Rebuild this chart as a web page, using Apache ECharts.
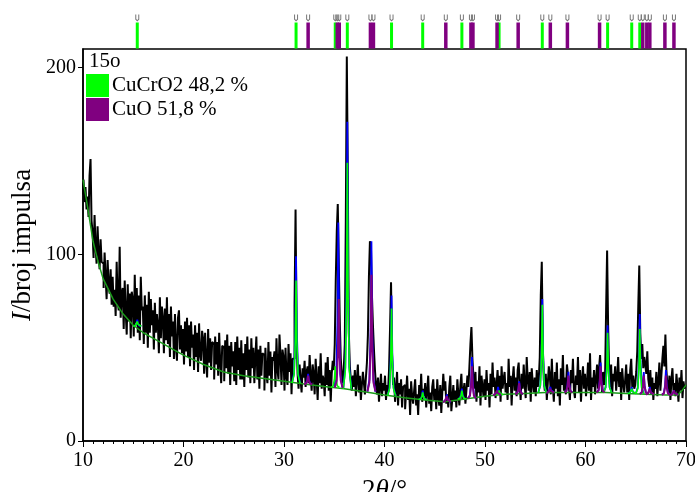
<!DOCTYPE html>
<html>
<head>
<meta charset="utf-8">
<script src="https://cdn.jsdelivr.net/npm/echarts@6/dist/echarts.min.js"></script>
<style>
html,body{margin:0;padding:0;background:#fff;}
#chart{width:695px;height:492px;}
</style>
</head>
<body>
<div id="chart"></div>
<script>
// ---------- DATA ----------
const sampleName = '15o';
const phaseNames = ['CuCrO2 48,2 %', 'CuO 51,8 %'];
const xTicks = [10, 20, 30, 40, 50, 60, 70];
const yTicks = [0, 100, 200];

// observed counts, 2theta from 10.0 to 70.0 in steps of 0.1
const obsStart = 10;
const obsStep = 0.1;
const obsCounts = [
132,140,128,136,124,131,120,142,151,118,
112,98,121,104,95,115,101,92,108,96,
95,82,101,88,76,97,84,79,92,73,
88,72,81,67,96,75,70,104,66,79,
82,60,86,69,57,84,64,79,55,80,
76,56,89,63,82,58,78,54,88,70,
72,52,78,58,73,50,80,58,76,62,
70,49,74,58,68,62,47,77,55,72,
66,47,71,54,77,52,68,45,72,56,
64,44,68,50,43,66,70,49,62,47,
60,41,64,48,66,45,62,40,64,50,
57,38,62,45,58,37,63,46,43,59,
55,36,58,43,34,60,42,55,38,53,
52,33,56,41,53,35,58,42,31,51,
50,32,54,39,57,36,51,30,53,40,
48,32,53,30,56,38,50,33,54,33,
47,29,52,38,56,34,49,31,55,39,
50,31,45,56,33,49,28,51,35,47,
46,27,50,36,31,53,35,48,26,45,
43,48,29,55,38,33,57,46,30,49,
45,27,50,35,30,52,37,47,25,44,
44,72,124,58,36,28,41,33,26,39,
34,43,29,37,40,31,46,35,27,41,
36,25,44,33,22,40,31,47,28,35,
33,24,42,30,45,27,38,21,36,43,
38,52,86,112,127,96,64,44,36,31,
39,52,118,206,142,58,40,33,27,35,
29,38,24,33,41,26,35,22,30,37,
31,25,34,42,57,88,107,104,78,62,
49,38,30,25,34,21,29,36,24,31,
27,35,22,30,26,38,60,85,47,30,
34,21,28,37,19,31,25,33,18,29,
30,17,26,35,22,28,14,32,24,20,
27,33,19,25,14,30,23,36,21,28,
24,31,18,27,35,20,26,16,29,33,
22,28,17,33,24,19,30,15,26,36,
27,32,20,25,18,29,35,16,23,30,
21,27,18,33,25,19,30,36,22,26,
31,20,27,35,29,40,52,61,44,34,
28,37,21,32,26,40,19,35,29,24,
33,22,38,27,31,18,36,25,42,29,
34,23,30,38,27,35,21,40,28,33,
37,26,31,22,44,29,35,19,33,40,
27,34,24,38,42,30,22,36,28,41,
30,23,45,33,27,37,21,39,31,26,
34,24,38,29,33,45,78,96,51,33,
27,36,22,31,40,35,25,44,29,21,
37,28,42,24,33,19,39,30,46,27,
34,25,41,36,29,22,38,31,44,27,
23,35,30,45,26,38,21,33,40,28,
36,24,31,42,27,47,22,34,29,38,
25,33,41,28,39,46,34,26,37,30,
35,70,102,62,38,29,41,24,36,32,
40,27,34,45,29,37,22,39,31,26,
33,41,26,36,22,38,44,29,35,28,
30,37,48,72,94,58,44,52,39,45,
41,36,48,33,29,38,25,34,22,31,
28,37,24,32,42,27,35,44,51,40,
57,38,30,26,35,22,33,39,27,31,
24,36,29,21,34,27,38,23,32,28,
30
];

// background curve
const bgX = [10,10.5,11,11.5,12,13,14,15,16,17,18,19,20,22,24,26,28,30,32,34,36,38,40,42,44,46,48,50,52,54,56,58,60,62,64,66,68,69.2,69.6,70];
const bgY = [140,124,107,96,87,76,68,62,58,55,52,49,46,41,37,35,33.5,32,30.5,29.2,28,26.4,24.7,23.2,22,21,22.5,24,25,25.5,26,26,26,26,25.5,25,24.7,24.7,27,30];

// reflection positions (tick marks above the plot)
const cuCrO2Ticks = [15.4, 31.2, 35.1, 36.3, 40.7, 43.8, 47.7, 51.4, 55.7, 62.2, 64.6, 65.4];
const cuOTicks = [32.4, 35.3, 35.5, 38.6, 38.9, 46.1, 48.6, 48.8, 51.2, 53.3, 56.5, 58.2, 61.4, 65.7, 66.1, 66.4, 67.9, 68.8];

// phase contributions (position, base level, peak top)
const cuCrO2PeakPos  = [15.4, 31.2, 35.1, 36.3, 40.7, 43.8, 47.7, 51.4, 55.7, 62.2, 64.6, 65.4];
const cuCrO2PeakBase = [61.5, 31, 28.7, 28, 24.3, 22.2, 22.5, 24.8, 25.9, 26, 25.5, 25.3];
const cuCrO2PeakTop  = [64, 86, 40, 149, 71, 26, 27, 27, 73, 58, 28, 60];

const cuOPeakPos  = [32.4, 35.45, 38.7, 46.2, 48.7, 51.2, 53.4, 56.5, 58.3, 61.5, 65.8, 66.4, 68.0, 68.8];
const cuOPeakBase = [30.4, 28.5, 26.5, 21, 22.8, 24.7, 25.2, 25.9, 26, 26, 25.2, 25, 24.7, 24.7];
const cuOPeakTop  = [35, 76, 89, 24, 40, 27, 31, 28, 35, 40, 35, 28, 35, 27];

// calculated total profile peaks
const calcPeakPos  = [15.4, 31.2, 32.4, 35.4, 36.3, 38.7, 40.7, 43.8, 46.2, 47.7, 48.7, 51.3, 53.4, 55.7, 56.5, 58.3, 61.5, 62.2, 64.6, 65.4, 65.8, 66.4, 68.0, 68.8];
const calcPeakBase = [61.5, 31, 30.4, 28.6, 28, 26.5, 24.3, 22.2, 21, 22.5, 22.8, 24.8, 25.2, 25.9, 25.9, 26, 26, 26, 25.5, 25.3, 25.2, 25, 24.7, 24.7];
const calcPeakTop  = [65, 99, 36, 117, 171, 107, 78, 27, 25, 28, 45, 29, 32, 76, 29, 37, 42, 62, 29, 68, 37, 29, 38, 27];

// ---------- BUILD ----------
const FONT = 'Liberation Serif';
const shapeOff = [-0.4, -0.2, -0.08, 0, 0.08, 0.2, 0.4];
const shapeFrac = [0, 0.08, 0.4, 1, 0.4, 0.08, 0];
function peakLines(pos, base, top) {
  const out = [];
  pos.forEach((p, i) => {
    shapeOff.forEach((o, k) => out.push([p + o, base[i] + (top[i] - base[i]) * shapeFrac[k]]));
    out.push([p + 0.41, '-']);
  });
  return out;
}
const obsData = obsCounts.map((v, i) => [+(obsStart + i * obsStep).toFixed(2), v]);
const bgData = bgX.map((x, i) => [x, bgY[i]]);

const chart = echarts.init(document.getElementById('chart'), null, {renderer: 'canvas'});
const tickGlyph = 'path://M0,0 L0,5 L2,7 L4,5 L4,0 L3,0 L3,4.5 L2,5.6 L1,4.5 L1,0 Z';

chart.setOption({
  animation: false,
  backgroundColor: '#fff',
  title: {
    text: sampleName, left: 89, top: 51, padding: 0,
    textStyle: {fontFamily: FONT, fontSize: 21, fontWeight: 'normal', color: '#000'}
  },
  legend: {
    data: phaseNames, left: 86, top: 74, orient: 'vertical', padding: 0,
    icon: 'rect', itemWidth: 23, itemHeight: 23, itemGap: 1,
    itemStyle: {opacity: 1},
    textStyle: {fontFamily: FONT, fontSize: 21, color: '#000', padding: [0, 0, 0, -2]},
    selectedMode: false
  },
  grid: [
    {left: 83, right: 9, top: 49, bottom: 51, outerBoundsMode: 'none', containLabel: false,
     show: true, borderColor: '#000', borderWidth: 1.5, backgroundColor: 'transparent'},
    {left: 83, right: 9, top: 22, height: 27, outerBoundsMode: 'none', containLabel: false}
  ],
  xAxis: [
    {
      type: 'value', min: 10, max: 70, interval: 10, gridIndex: 0,
      name: '2{it|θ}/°', nameLocation: 'middle', nameGap: 36, nameMoveOverlap: false,
      nameTextStyle: {fontFamily: FONT, fontSize: 27, color: '#000',
        rich: {it: {fontFamily: FONT, fontSize: 27, fontStyle: 'italic', color: '#000'}}},
      axisLine: {lineStyle: {color: '#000', width: 1.5}},
      axisTick: {inside: false, length: 6, lineStyle: {color: '#000'}},
      minorTick: {show: true, splitNumber: 10, length: 3, lineStyle: {color: '#000'}},
      axisLabel: {fontFamily: FONT, fontSize: 20, color: '#000', margin: 10, customValues: xTicks},
      splitLine: {show: false}
    },
    {type: 'value', min: 10, max: 70, gridIndex: 1, show: false}
  ],
  yAxis: [
    {
      type: 'value', min: 0, max: 210, interval: 100, gridIndex: 0,
      name: '{it|I}/broj impulsa', nameLocation: 'middle', nameGap: 47, nameRotate: 90, nameMoveOverlap: false,
      nameTextStyle: {fontFamily: FONT, fontSize: 27, color: '#000',
        rich: {it: {fontFamily: FONT, fontSize: 27, fontStyle: 'italic', color: '#000'}}},
      axisLine: {show: true, lineStyle: {color: '#000', width: 1.5}},
      axisTick: {show: true, inside: false, length: 5, customValues: yTicks, lineStyle: {color: '#000'}},
      axisLabel: {fontFamily: FONT, fontSize: 20, color: '#000', margin: 7, customValues: yTicks},
      splitLine: {show: false}
    },
    {type: 'value', min: 0, max: 1, gridIndex: 1, show: false}
  ],
  series: [
    {
      name: 'obs', type: 'line', data: obsData, step: 'middle', showSymbol: false, z: 1,
      lineStyle: {color: '#000', width: 2}, silent: true
    },
    {
      name: 'calc', type: 'line', data: peakLines(calcPeakPos, calcPeakBase, calcPeakTop),
      showSymbol: false, connectNulls: false, z: 2, lineStyle: {color: '#0000ff', width: 1.8}, silent: true
    },
    {
      name: 'bg', type: 'line', data: bgData, showSymbol: false, z: 3,
      lineStyle: {color: '#1a9a1a', width: 1.5}, silent: true
    },
    {
      name: 'cuCrO2 profile', type: 'line', data: peakLines(cuCrO2PeakPos, cuCrO2PeakBase, cuCrO2PeakTop),
      showSymbol: false, connectNulls: false, z: 4, lineStyle: {color: '#00ff00', width: 1.6}, silent: true
    },
    {
      name: 'cuO profile', type: 'line', data: peakLines(cuOPeakPos, cuOPeakBase, cuOPeakTop),
      showSymbol: false, connectNulls: false, z: 5, lineStyle: {color: '#800080', width: 2}, silent: true
    },
    {
      name: phaseNames[0], type: 'scatter', xAxisIndex: 1, yAxisIndex: 1,
      data: cuCrO2Ticks.map(p => [p, 0.5]), symbol: 'rect', symbolSize: [3, 26],
      itemStyle: {color: '#00ff00', opacity: 1}, silent: true, z: 3
    },
    {
      name: phaseNames[1], type: 'scatter', xAxisIndex: 1, yAxisIndex: 1,
      data: cuOTicks.map(p => [p, 0.5]), symbol: 'rect', symbolSize: [3.5, 26],
      itemStyle: {color: '#800080', opacity: 1}, silent: true, z: 3
    },
    {
      name: 'glyphs', type: 'scatter', xAxisIndex: 1, yAxisIndex: 1,
      data: cuCrO2Ticks.concat(cuOTicks).map(p => [p, 1]), symbol: tickGlyph, symbolSize: [4, 7],
      symbolOffset: [0, -4], itemStyle: {color: '#777', opacity: 1}, silent: true, z: 4
    }
  ]
});
</script>
</body>
</html>
